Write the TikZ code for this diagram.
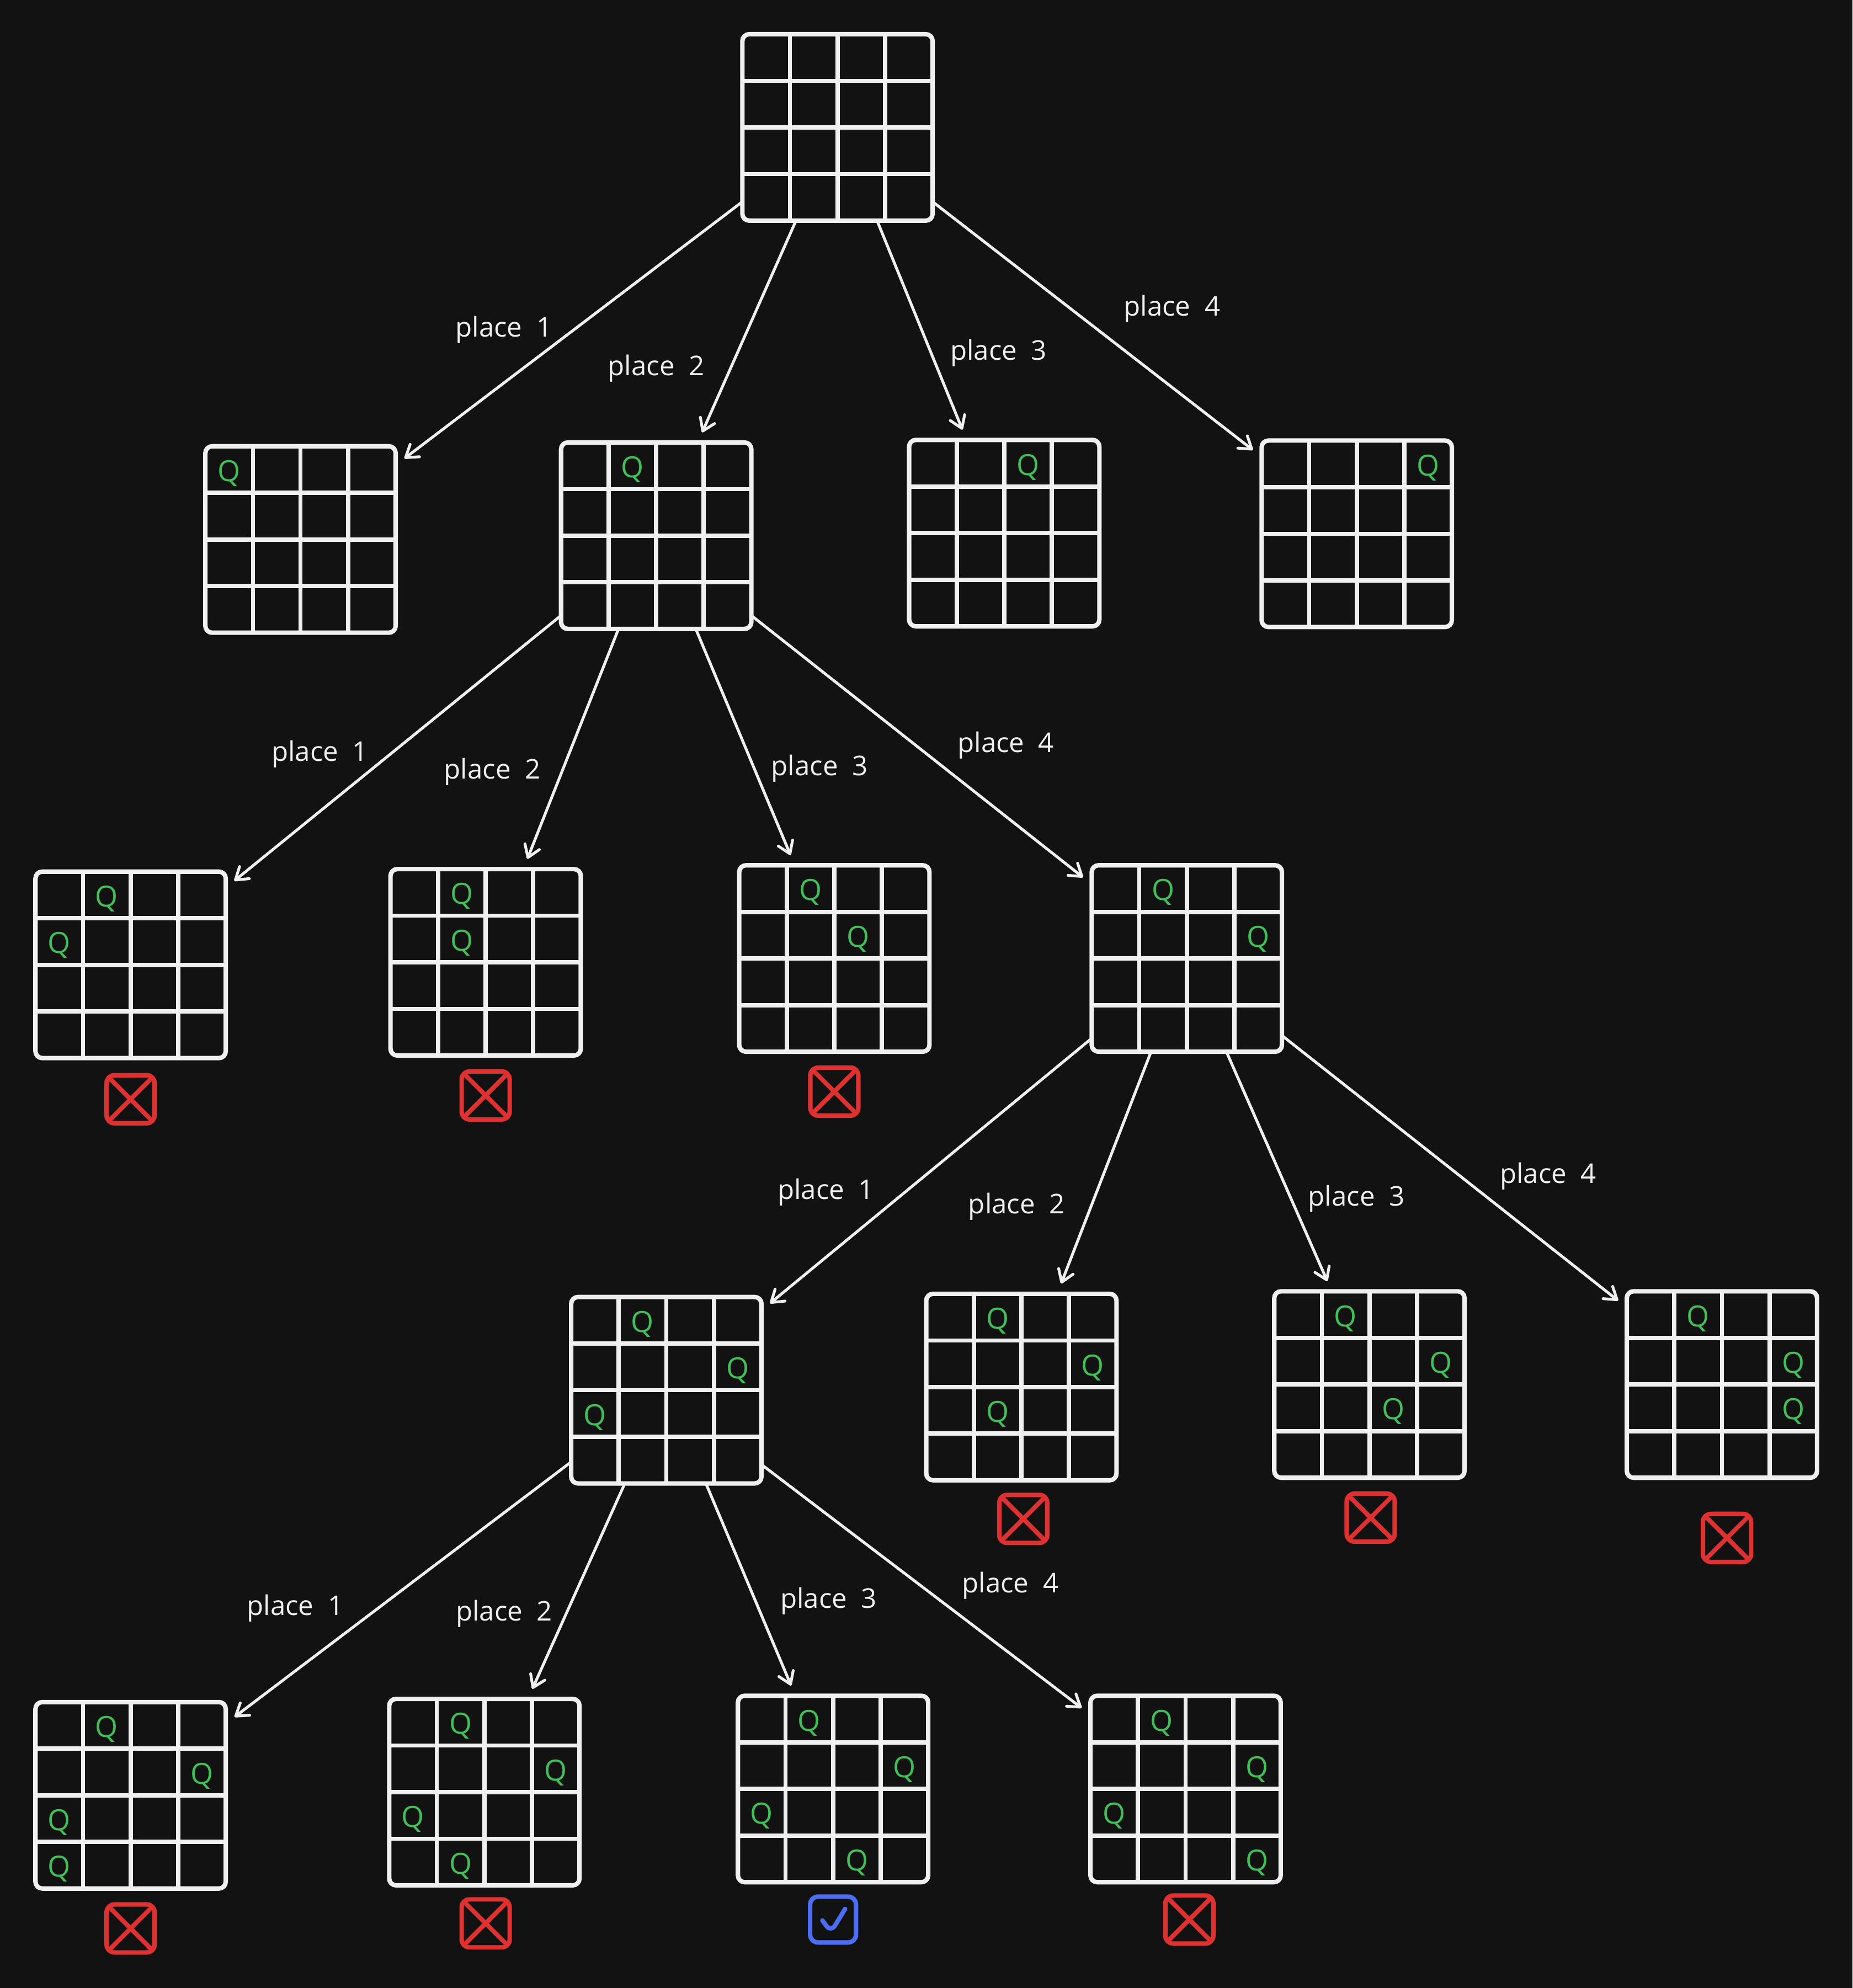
\documentclass[tikz,border=0pt]{standalone}
\usepackage{fontspec}
\setmainfont{Open Sans}
\usetikzlibrary{arrows.meta,calc}
\definecolor{bg}{HTML}{121212}
\definecolor{chalk}{HTML}{F0F0F0}
\definecolor{queengreen}{HTML}{40C057}
\definecolor{badred}{HTML}{E03131}
\definecolor{goodblue}{HTML}{4C6EF5}

\newcommand{\qboard}[2]{%
  \node[board] (#1) at (#2) {};
  \foreach \k in {1,2,3} {
    \draw[cell] ($(#1.north west)!{\k/4}!(#1.north east)$) -- ($(#1.south west)!{\k/4}!(#1.south east)$);
    \draw[cell] ($(#1.north west)!{\k/4}!(#1.south west)$) -- ($(#1.north east)!{\k/4}!(#1.south east)$);
  }}
\newcommand{\queens}[2]{%
  \foreach \c/\r in {#2}
    \node[queen] at ($(#1.north west)+({(\c+.5)*37.5},{(\r+.5)*36.75+3})$) {Q};}

\begin{document}
\begin{tikzpicture}[x=0.022971cm,y=-0.022971cm,
  board/.style={draw=chalk,line width=2.3pt,rounded corners=3.5pt,minimum width=3.446cm,minimum height=3.377cm,inner sep=0pt,outer sep=0pt},
  cell/.style={chalk,line width=2.2pt},
  queen/.style={text=queengreen,font=\fontsize{15}{17}\selectfont,inner sep=0pt},
  edge/.style={chalk,line width=1.45pt,line cap=round,shorten >=0.2cm,-{Straight Barb[length=6pt,width=8pt,line width=1.45pt,round]}},
  lbl/.style={text=chalk,font=\fontsize{14}{16}\selectfont,inner sep=0pt},
  fail/.style={draw=badred,line width=2.3pt,rounded corners=4pt,minimum size=0.87cm,inner sep=0pt,
    path picture={\draw[badred,line width=2.3pt] (path picture bounding box.north west) -- (path picture bounding box.south east)
      (path picture bounding box.north east) -- (path picture bounding box.south west);}},
  pass/.style={draw=goodblue,line width=2.3pt,rounded corners=4pt,minimum size=0.83cm,inner sep=0pt,
    path picture={\draw[goodblue,line width=2.3pt,line cap=round,line join=round]
      ($(path picture bounding box.center)+(-8.4,0.7)$) -- ++(6.7,9.3) -- ++(11.2,-18.4);}}]
  \fill[bg] (0,0) rectangle (1461,1568);
  \useasboundingbox (0,0) rectangle (1461,1568);

  \qboard{root}{660.5,100.5}

  \qboard{b1}{237,425.5}   \queens{b1}{0/0}
  \qboard{b2}{517.5,422.5} \queens{b2}{1/0}
  \qboard{b3}{792,420.5}   \queens{b3}{2/0}
  \qboard{b4}{1070,421}    \queens{b4}{3/0}

  \qboard{c1}{103,761} \queens{c1}{1/0,0/1}
  \qboard{c2}{383,759} \queens{c2}{1/0,1/1}
  \qboard{c3}{658,756} \queens{c3}{1/0,2/1}
  \qboard{c4}{936,756} \queens{c4}{1/0,3/1}

  \qboard{d1}{525.5,1096.5} \queens{d1}{1/0,3/1,0/2}
  \qboard{d2}{805.5,1094}   \queens{d2}{1/0,3/1,1/2}
  \qboard{d3}{1080,1092}    \queens{d3}{1/0,3/1,2/2}
  \qboard{d4}{1358,1092}    \queens{d4}{1/0,3/1,3/2}

  \qboard{e1}{103,1416}   \queens{e1}{1/0,3/1,0/2,0/3}
  \qboard{e2}{382,1413.5} \queens{e2}{1/0,3/1,0/2,1/3}
  \qboard{e3}{657,1411}   \queens{e3}{1/0,3/1,0/2,2/3}
  \qboard{e4}{935,1411}   \queens{e4}{1/0,3/1,0/2,3/3}

  \node[fail] (xc1) at (103,867) {};
  \node[fail] (xc2) at (383,864) {};
  \node[fail] (xc3) at (658,861) {};
  \node[fail] (xd2) at (807,1198) {};
  \node[fail] (xd3) at (1081,1197) {};
  \node[fail] (xd4) at (1362,1213) {};
  \node[fail] (xe1) at (103,1521) {};
  \node[fail] (xe2) at (383,1517) {};
  \node[pass] (ok) at (657,1514) {};
  \node[fail] (xe4) at (938,1514) {};

  \foreach \kid/\a/\b/\n/\dx/\dy in {b1/218/38/1/-51.5/-3,b2/246/66/2/-71.5/29,b3/293/112/3/60.5/18,b4/322/141/4/59/-16}
    \draw[edge] (root.\a) -- (\kid.\b) node[lbl,midway,shift={(\dx,\dy)}] {place\ \ \n};
  \foreach \kid/\a/\b/\n/\dx/\dy in {c1/220/39/1/-58/2,c2/248/68/2/-62/18,c3/293/113/3/58.5/17,c4/320/142/4/66.5/-3.5}
    \draw[edge] (b2.\a) -- (\kid.\b) node[lbl,midway,shift={(\dx,\dy)}] {place\ \ \n};
  \foreach \kid/\a/\b/\n/\dx/\dy in {d1/220/40/1/-79.5/14,d2/249/69/2/-69/26.5,d3/293/112/3/61/21.5,d4/321/141/4/74/3.5}
    \draw[edge] (c4.\a) -- (\kid.\b) node[lbl,midway,shift={(\dx,\dy)}] {place\ \ \n};
  \foreach \kid/\a/\b/\n/\dx/\dy in {e1/217/37/1/-81.5/12,e2/246/65/2/-57/18,e3/293/112/3/61.5/9,e4/322/142/4/66.5/-3}
    \draw[edge] (d1.\a) -- (\kid.\b) node[lbl,midway,shift={(\dx,\dy)}] {place\ \ \n};
\end{tikzpicture}
\end{document}
